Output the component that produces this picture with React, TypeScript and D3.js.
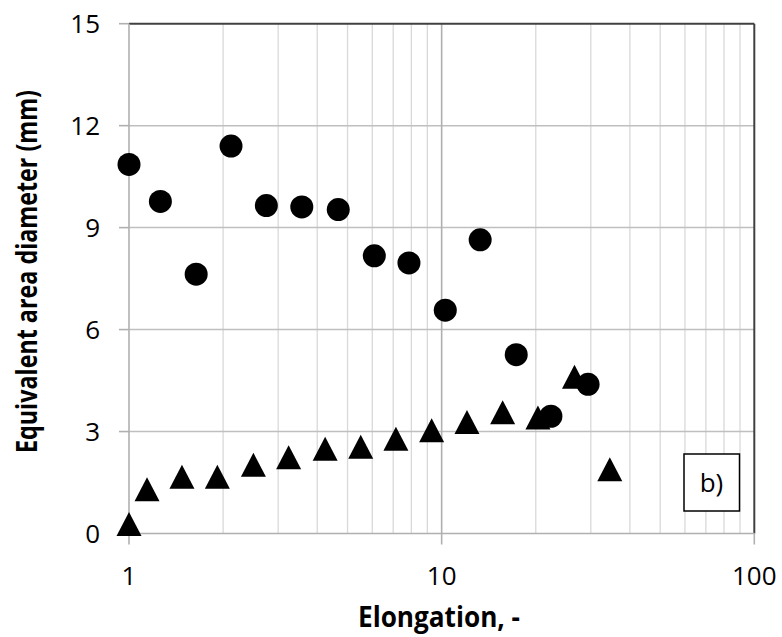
import React from "react";
import * as d3 from "d3";

const W = 782;
const H = 637;

// Circles series (Elongation, Equivalent area diameter)
const circleX = [1.0, 1.26, 1.64, 2.12, 2.75, 3.57, 4.67, 6.09, 7.86, 10.27, 13.28, 17.32, 22.36, 29.4];
const circleY = [10.86, 9.77, 7.63, 11.4, 9.65, 9.61, 9.53, 8.17, 7.96, 6.57, 8.64, 5.26, 3.45, 4.39];

// Triangles series
const triX = [1.0, 1.142, 1.477, 1.917, 2.5, 3.24, 4.24, 5.51, 7.14, 9.29, 12.05, 15.67, 20.32, 26.6, 34.5];
const triY = [0.28, 1.3, 1.67, 1.67, 2.02, 2.24, 2.49, 2.55, 2.79, 3.04, 3.28, 3.57, 3.41, 4.61, 1.89];

const yTicks = [0, 3, 6, 9, 12, 15];
const xTicks = [1, 10, 100];
const xTitle = "Elongation, -";
const yTitle = "Equivalent area diameter (mm)";
const panelLabel = "b)";

const left = 129;
const right = 754.3;
const top = 23.7;
const bottom = 533.5;

export default function App() {
  const x = d3.scaleLog().domain([1, 100]).range([left, right]);
  const y = d3.scaleLinear().domain([0, 15]).range([bottom, top]);

  const minorX: number[] = [];
  for (let dec = 1; dec < 100; dec *= 10) {
    for (let k = 2; k <= 9; k++) minorX.push(dec * k);
  }

  const font = "'Open Sans', sans-serif";
  const tw = 12.5; // triangle half-width
  const th = 24; // triangle height

  return (
    <div style={{ position: "absolute", left: 0, top: 0 }}>
      <svg width={W} height={H} style={{ display: "block", background: "#fff" }}>
        {/* minor vertical grid */}
        {minorX.map((v) => (
          <line key={"mx" + v} x1={x(v)} x2={x(v)} y1={top} y2={bottom} stroke="#d9d9d9" strokeWidth={1.3} />
        ))}
        {/* horizontal grid */}
        {yTicks.filter((t) => t > 0 && t < 15).map((t) => (
          <line key={"hy" + t} x1={left} x2={right} y1={y(t)} y2={y(t)} stroke="#bfbfbf" strokeWidth={1.5} />
        ))}
        {/* major vertical grid */}
        {xTicks.filter((t) => t > 1 && t < 100).map((t) => (
          <line key={"vx" + t} x1={x(t)} x2={x(t)} y1={top} y2={bottom} stroke="#b0b0b0" strokeWidth={1.6} />
        ))}
        {/* plot border top & right */}
        <line x1={left} x2={right} y1={top} y2={top} stroke="#404040" strokeWidth={2} />
        <line x1={right} x2={right} y1={top} y2={bottom} stroke="#404040" strokeWidth={2} />
        {/* axes */}
        <line x1={left} x2={left} y1={top} y2={bottom} stroke="#b0b0b0" strokeWidth={1.6} />
        <line x1={left} x2={right} y1={bottom} y2={bottom} stroke="#b0b0b0" strokeWidth={1.6} />
        {yTicks.map((t) => (
          <g key={"yt" + t}>
            <line x1={left - 10} x2={left} y1={y(t)} y2={y(t)} stroke="#b0b0b0" strokeWidth={1.6} />
            <text x={100} y={y(t)} dy="0.36em" textAnchor="end" fontFamily={font} fontSize={26} fill="#000">
              {t}
            </text>
          </g>
        ))}
        {xTicks.map((t) => (
          <g key={"xt" + t}>
            <line x1={x(t)} x2={x(t)} y1={bottom} y2={bottom + 11} stroke="#b0b0b0" strokeWidth={1.6} />
            <text x={x(t)} y={585} textAnchor="middle" fontFamily={font} fontSize={26} fill="#000">
              {t}
            </text>
          </g>
        ))}
        {/* axis titles */}
        <text x={439} y={626.5} textAnchor="middle" fontFamily={font} fontWeight="bold" fontSize={28}
          textLength={162} lengthAdjust="spacingAndGlyphs" fill="#000">
          {xTitle}
        </text>
        <text transform={`translate(36.5,271.5) rotate(-90)`} textAnchor="middle" fontFamily={font}
          fontWeight="bold" fontSize={28} textLength={363} lengthAdjust="spacingAndGlyphs" fill="#000">
          {yTitle}
        </text>
        {/* circles */}
        {circleX.map((v, i) => (
          <circle key={"c" + i} cx={x(v)} cy={y(circleY[i])} r={11.5} fill="#000" />
        ))}
        {/* triangles */}
        {triX.map((v, i) => {
          const cx = x(v);
          const cy = y(triY[i]);
          const p = d3.path();
          p.moveTo(cx, cy - th / 2);
          p.lineTo(cx + tw, cy + th / 2);
          p.lineTo(cx - tw, cy + th / 2);
          p.closePath();
          return <path key={"t" + i} d={p.toString()} fill="#000" />;
        })}
        {/* panel label */}
        <rect x={684} y={454} width={55.5} height={57} fill="#fff" stroke="#000" strokeWidth={1.5} />
        <text x={711.5} y={482.5} dy="0.36em" textAnchor="middle" fontFamily={font} fontSize={26} fill="#000">
          {panelLabel}
        </text>
      </svg>
    </div>
  );
}
